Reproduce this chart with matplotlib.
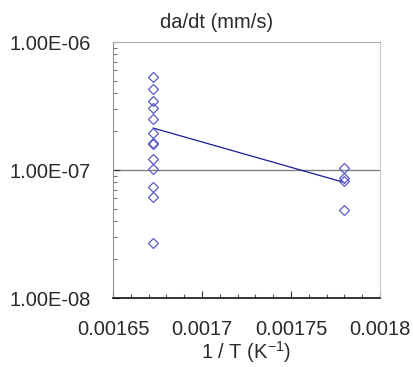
#!/usr/bin/env python3

import numpy as np
import matplotlib
matplotlib.use('Agg')
import matplotlib.pyplot as plt
from matplotlib.ticker import MultipleLocator, LogLocator, FixedLocator, NullFormatter

# 1/T (K^-1) for the two temperatures
x_hot = 0.0016726
x_cold = 0.0017798

# da/dt (mm/s) measured at each temperature
rate_hot = [5.30e-7, 4.26e-7, 3.48e-7, 3.07e-7, 2.52e-7, 1.94e-7, 1.63e-7,
            1.59e-7, 1.21e-7, 1.02e-7, 7.41e-8, 6.12e-8, 2.70e-8]
rate_cold = [1.03e-7, 8.6e-8, 8.2e-8, 4.9e-8]

ytick_vals = [1e-8, 1e-7, 1e-6]
ytick_labels = ['1.00E-08', '1.00E-07', '1.00E-06']
xtick_vals = [0.00165, 0.0017, 0.00175, 0.0018]
xtick_labels = ['0.00165', '0.0017', '0.00175', '0.0018']

plt.rcParams['font.family'] = ['Liberation Sans', 'DejaVu Sans']
fs = 14.5
txt_col = '#2a2a2a'
pt_col = '#5a5ac8'
line_col = '#1a1a9a'

fig = plt.figure(figsize=(4.14, 3.67), dpi=100)
ax = fig.add_axes([113 / 414, 1 - 298 / 367, 267 / 414, 256 / 367])

ax.set_yscale('log')
ax.set_xlim(0.00165, 0.0018)
ax.set_ylim(1e-8, 1e-6)

# gridline at 1e-7
ax.axhline(1e-7, color='#808080', lw=1.0, zorder=1)

# points
ax.plot([x_hot] * len(rate_hot), rate_hot, 'D', ms=5, mfc='none',
        mec=pt_col, mew=0.9, zorder=3)
ax.plot([x_cold] * len(rate_cold), rate_cold, 'D', ms=5, mfc='none',
        mec=pt_col, mew=0.9, zorder=3)

# line through the mean at each temperature
ax.plot([x_hot, x_cold], [np.mean(rate_hot), np.mean(rate_cold)],
        color=line_col, lw=0.9, zorder=2)

ax.xaxis.set_major_locator(FixedLocator(xtick_vals))
ax.set_xticklabels(xtick_labels)
ax.xaxis.set_minor_locator(MultipleLocator(0.00001))
ax.yaxis.set_major_locator(FixedLocator(ytick_vals))
ax.set_yticklabels(ytick_labels)
ax.yaxis.set_minor_locator(LogLocator(base=10, subs=np.arange(2, 10)))
ax.yaxis.set_minor_formatter(NullFormatter())

ax.tick_params(axis='x', which='major', direction='in', length=5, width=0.8,
               color='#333333', labelsize=fs, labelcolor=txt_col, pad=16)
ax.tick_params(axis='x', which='minor', direction='in', length=3, width=0.8,
               color='#555555')
ax.tick_params(axis='y', which='major', direction='in', length=5, width=0.8,
               color='#333333', labelsize=fs, labelcolor=txt_col, pad=16)
ax.tick_params(axis='y', which='minor', direction='in', length=3, width=0.8,
               color='#777777')

ax.spines['bottom'].set_color('#111111')
ax.spines['bottom'].set_linewidth(1.2)
ax.spines['left'].set_color('#909090')
ax.spines['top'].set_color('#b0b0b0')
ax.spines['right'].set_color('#c8c8c8')

ax.set_xlabel('1 / T (K$^{\\mathregular{-1}}$)', fontsize=fs, color=txt_col,
              labelpad=0)
fig.text(217 / 414, 1 - 22 / 367, 'da/dt (mm/s)', fontsize=fs, color=txt_col,
         ha='center', va='center')

fig.savefig('out.png', dpi=100)
